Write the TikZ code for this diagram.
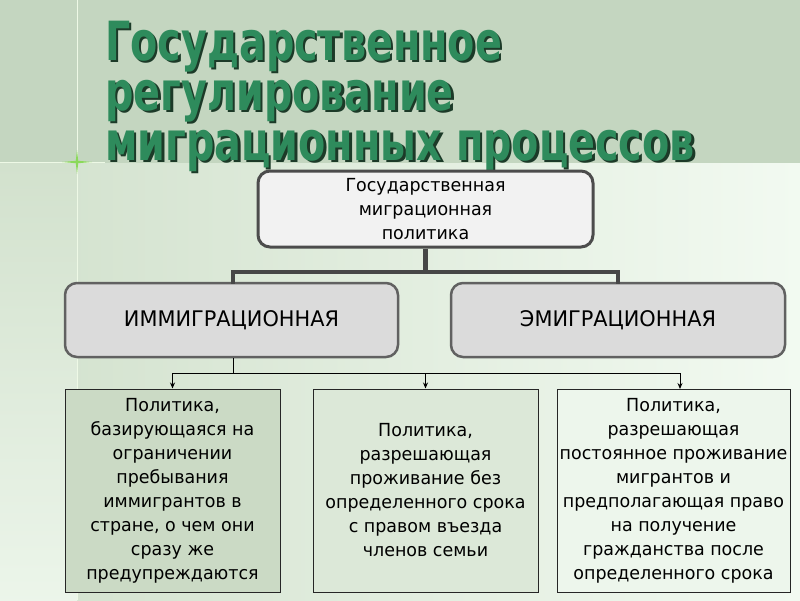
\documentclass[tikz,border=0pt]{standalone}
\usepackage{fontspec}
\setmainfont{DejaVu Sans}[FakeStretch=0.97]
\newfontfamily\titlefont{DejaVu Sans}[FakeStretch=0.735]
\usetikzlibrary{arrows.meta}
\definecolor{sage}{HTML}{C4D6C0}
\definecolor{lowL}{HTML}{D2E1CD}
\definecolor{lowR}{HTML}{F2FAF1}
\definecolor{titlegreen}{HTML}{2E8B5C}
\definecolor{titleshadow}{HTML}{1C3A28}
\definecolor{sparkle}{HTML}{8BD95A}
\definecolor{boxA}{HTML}{CBDAC5}
\definecolor{boxB}{HTML}{DCE8D8}
\definecolor{boxC}{HTML}{EDF6EC}
\newcommand{\shadowed}[1]{\makebox[0pt][l]{\hspace{2.5pt}\raisebox{-2.5pt}{\color{titleshadow}#1}}#1}
\tikzset{
  titletext/.style={anchor=base west, inner sep=0pt, text=titlegreen,
    font=\titlefont\bfseries\fontsize{54}{54}\selectfont},
  topbox/.style={draw=black!70, line width=3pt, rounded corners=12pt, fill=black!5,
    minimum width=335pt, minimum height=76pt, align=center, inner sep=0pt,
    font=\fontsize{18}{24}\selectfont},
  midbox/.style={draw=black!62, line width=2.5pt, rounded corners=12pt, fill=black!14,
    minimum width=333pt, minimum height=74pt, align=center, inner sep=0pt,
    font=\fontsize{21.5}{24}\selectfont},
  leafbox/.style={draw=black!85, line width=1pt, minimum height=203pt, align=center,
    inner sep=0pt, font=\fontsize{18}{24}\selectfont},
  thick conn/.style={draw=black!72, line width=4.5pt},
  thin conn/.style={draw=black, line width=0.9pt},
  arr/.style={thin conn, -{Stealth[length=6pt,width=5pt]}}
}
\begin{document}
\begin{tikzpicture}[x=1pt,y=-1pt]
\useasboundingbox (0,0) rectangle (800,600);
% background
\fill[sage] (0,0) rectangle (800,163);
\shade[left color=lowL, right color=lowR] (0,163) rectangle (800,600);
\shade[top color=lowL, bottom color=lowR!80!lowL] (0,163) rectangle (77,600);
% sparkle lines
\draw[white!85!sparkle, line width=1pt] (77,0) -- (77,600);
\draw[white!85!sparkle, line width=1pt] (0,162) -- (105,162);
\fill[sparkle] (77,150) -- (78.2,160.8) -- (92,162) -- (78.2,163.2) -- (77,174) -- (75.8,163.2) -- (62,162) -- (75.8,160.8) -- cycle;
% title
\node[titletext] (t1) at (105,60) {\shadowed{Государственное}};
\node[titletext] (t2) at (105,110) {\shadowed{регулирование}};
\node[titletext] (t3) at (105,160) {\shadowed{миграционных процессов}};
% boxes
\node[topbox] (gov) at (425.5,209) {Государственная\\миграционная\\политика};
\node[midbox] (imm) at (231.5,320) {ИММИГРАЦИОННАЯ};
\node[midbox, minimum width=334pt] (emi) at (618,320) {ЭМИГРАЦИОННАЯ};
\node[leafbox, fill=boxA, minimum width=215pt] (p1) at (172.5,490.5)
  {Политика,\\базирующаяся на\\ограничении\\пребывания\\иммигрантов в\\стране, о чем они\\сразу же\\предупреждаются};
\node[leafbox, fill=boxB, minimum width=225pt] (p2) at (425.5,490.5)
  {Политика,\\разрешающая\\проживание без\\определенного срока\\с правом въезда\\членов семьи};
\node[leafbox, fill=boxC, minimum width=233pt] (p3) at (673.5,490.5)
  {Политика,\\разрешающая\\постоянное проживание\\мигрантов и\\предполагающая право\\на получение\\гражданства после\\определенного срока};
% thick connectors
\coordinate (j1) at (425.5,272);
\draw[thick conn] (gov.south) -- (j1);
\draw[thick conn, line cap=rect] (imm.north -| 233,0) |- (j1) -| (emi.north);
% thin connectors
\coordinate (j2) at (233,373);
\draw[thin conn] (imm.south -| j2) -- (j2);
\draw[thin conn] (173,373) -- (680,373);
\draw[arr] (p1.north |- j2) -- (p1.north);
\draw[arr] (p2.north |- j2) -- (p2.north);
\draw[arr] (680,373) -- (680,389);
\end{tikzpicture}
\end{document}
